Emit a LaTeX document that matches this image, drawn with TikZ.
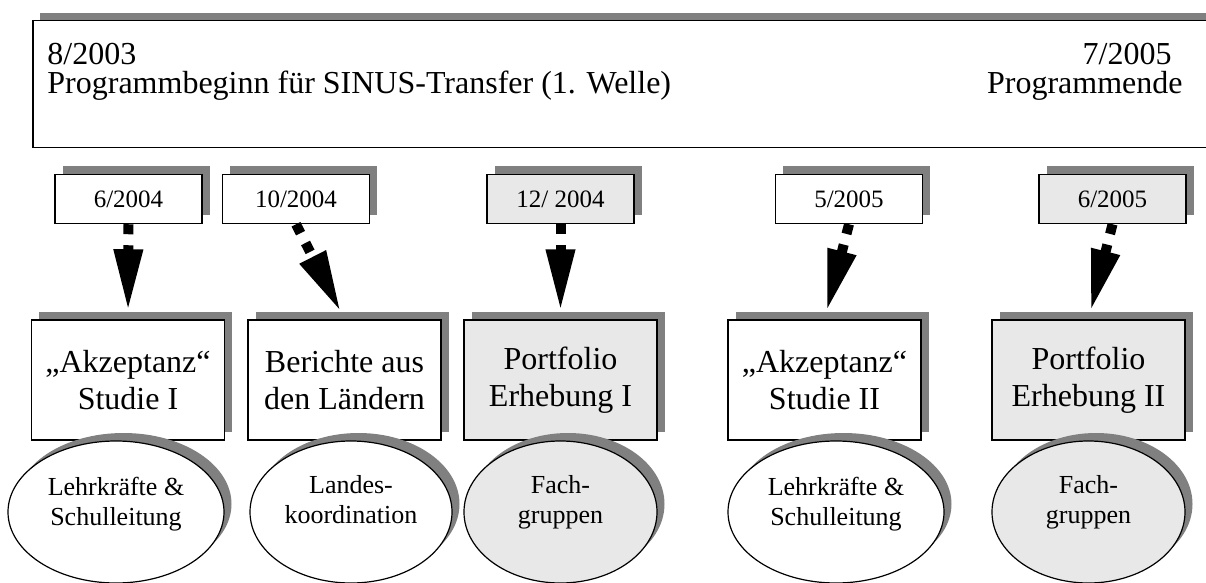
\documentclass[tikz,border=0pt]{standalone}
\usepackage{fontspec}
\setmainfont{Liberation Serif}
\usetikzlibrary{arrows.meta,shadows,shapes.geometric}
\begin{document}
\begin{tikzpicture}[x=0.5pt,y=-0.5pt,
  boxshadow/.style={drop shadow={shadow xshift=3.75pt,shadow yshift=4pt,fill=black!50,opacity=1}},
  greybox/.style={fill=black!9},
  progtext/.style={inner sep=0pt,font=\fontsize{16}{18}\selectfont},
  datebox/.style={draw,line width=0.75pt,fill=white,boxshadow,minimum width=73.5pt,minimum height=24.5pt,inner sep=0pt,font=\fontsize{12.5}{15}\selectfont},
  stepbox/.style={draw,line width=0.75pt,fill=white,boxshadow,minimum width=96.5pt,minimum height=60pt,inner sep=0pt,align=center,font=\fontsize{16}{18.5}\selectfont},
  cohort/.style={ellipse,draw,line width=0.6pt,fill=white,boxshadow,minimum height=71pt,inner sep=0pt},
  cohorttext/.style={inner sep=0pt,align=center,font=\fontsize{13}{15}\selectfont},
  link/.style={line width=5pt,dash pattern=on 5pt off 5.5pt,-{Triangle[length=31pt,width=13.5pt]},shorten >=4pt}]
\useasboundingbox (0,0) rectangle (1206,583);
\node[draw,line width=0.75pt,fill=white,boxshadow,minimum width=610pt,minimum height=63.5pt,anchor=north west] (prog) at (32,20) {};
\node[progtext,anchor=base west] (startdate) at (47,65) {8/2003};
\node[progtext,anchor=base west] (start) at (47,94) {Programmbeginn für SINUS-Transfer (1. Welle)};
\node[progtext,anchor=base east] (enddate) at (1172,65) {7/2005};
\node[progtext,anchor=base east] (end) at (1183,94) {Programmende};

\node[datebox] (d1) at (128.5,199) {6/2004};
\node[datebox] (d2) at (296,199) {10/2004};
\node[datebox,greybox] (d3) at (560.5,199) {12/ 2004};
\node[datebox] (d4) at (849,199) {5/2005};
\node[datebox,greybox] (d5) at (1112.5,199) {6/2005};

\node[stepbox] (t1) at (128,380) {„Akzeptanz“\\Studie I};
\node[stepbox] (t2) at (344.5,380) {Berichte aus\\den Ländern};
\node[stepbox,greybox] (t3) at (560.5,380) {Portfolio\\Erhebung I};
\node[stepbox] (t4) at (824.5,380) {„Akzeptanz“\\Studie II};
\node[stepbox,greybox] (t5) at (1088.5,380) {Portfolio\\Erhebung II};

\draw[link] (d1.south) -- (t1.north);
\draw[link] (d2.south) -- (t2.north);
\draw[link] (d3.south) -- (t3.north);
\draw[link] (d4.south) -- (t4.north);
\draw[link] (d5.south) -- (t5.north);

\node[cohort,minimum width=108pt] (c1) at (116,512) {};
\node[cohort,minimum width=101pt] (c2) at (351,512) {};
\node[cohort,greybox,minimum width=96.5pt] (c3) at (560.5,512) {};
\node[cohort,minimum width=108pt] (c4) at (836,512) {};
\node[cohort,greybox,minimum width=96.5pt] (c5) at (1088.5,512) {};
\node[cohorttext] (c1t) at ([yshift=4pt]c1.center) {Lehrkräfte \&\\Schulleitung};
\node[cohorttext] (c2t) at ([yshift=6pt]c2.center) {Landes-\\koordination};
\node[cohorttext] (c3t) at ([yshift=5pt]c3.center) {Fach-\\gruppen};
\node[cohorttext] (c4t) at ([yshift=4pt]c4.center) {Lehrkräfte \&\\Schulleitung};
\node[cohorttext] (c5t) at ([yshift=5pt]c5.center) {Fach-\\gruppen};
\end{tikzpicture}
\end{document}
